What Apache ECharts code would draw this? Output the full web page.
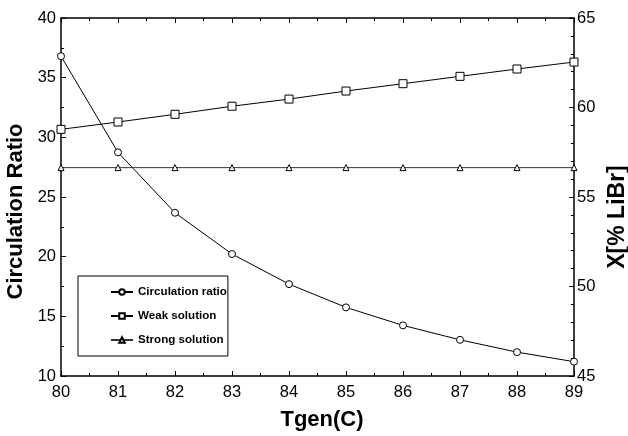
<!DOCTYPE html>
<html>
<head>
<meta charset="utf-8">
<script src="https://cdn.jsdelivr.net/npm/echarts@6/dist/echarts.min.js"></script>
<style>html,body{margin:0;padding:0;background:#fff}#c{width:628px;height:436px}</style>
</head>
<body>
<div id="c"></div>
<script>
const tgen = [80, 81, 82, 83, 84, 85, 86, 87, 88, 89];
const circulationRatio = [36.8, 28.74, 23.68, 20.22, 17.7, 15.75, 14.24, 13.03, 12.0, 11.2];
const weakSolution = [58.78, 59.19, 59.62, 60.07, 60.47, 60.92, 61.33, 61.74, 62.15, 62.54];
const strongSolution = [56.64, 56.64, 56.64, 56.64, 56.64, 56.64, 56.64, 56.64, 56.64, 56.64];
const seriesNames = ['Circulation ratio', 'Weak solution', 'Strong solution'];

const font = 'Liberation Sans, Arial, sans-serif';
const axisLine = {show: true, onZero: false, lineStyle: {color: '#000', width: 1.5}};
const pairs = (ys) => tgen.map((x, i) => [x, ys[i]]);
const nameStyle = (size, padding) => ({fontFamily: font, fontWeight: 'bold', fontSize: size, color: '#000', padding: padding});
const labelStyle = {fontFamily: font, fontSize: 16.5, color: '#000'};

const chart = echarts.init(document.getElementById('c'));
chart.setOption({
  animation: false,
  backgroundColor: '#fff',
  grid: {left: 61, right: 54, top: 18, bottom: 60, outerBoundsMode: 'none', containLabel: false},
  legend: {
    orient: 'vertical',
    left: 78, top: 276,
    data: seriesNames,
    itemWidth: 22, itemHeight: 7,
    itemGap: 10,
    padding: [9, 1, 9, 32],
    borderColor: '#000', borderWidth: 1,
    textStyle: {fontFamily: font, fontWeight: 'bold', fontSize: 11.6, color: '#000', lineHeight: 14}
  },
  xAxis: [{
    type: 'value', min: 80, max: 89, interval: 1,
    name: 'Tgen(C)', nameLocation: 'middle', nameGap: 33,
    nameTextStyle: nameStyle(22, [0, 0, 0, 9]),
    axisLine: axisLine,
    axisTick: {inside: true, length: 5, lineStyle: {color: '#000'}},
    minorTick: {show: true, splitNumber: 2, length: 3, lineStyle: {color: '#000'}},
    axisLabel: Object.assign({margin: 8}, labelStyle),
    splitLine: {show: false}
  }, {
    type: 'value', min: 80, max: 89, interval: 1, position: 'top',
    axisLine: axisLine,
    axisTick: {inside: true, length: 5, lineStyle: {color: '#000'}},
    minorTick: {show: true, splitNumber: 2, length: 3, lineStyle: {color: '#000'}},
    axisLabel: {show: false},
    splitLine: {show: false}
  }],
  yAxis: [{
    type: 'value', min: 10, max: 40, interval: 5, position: 'left',
    name: 'Circulation Ratio', nameLocation: 'middle', nameGap: 34, nameRotate: 90,
    nameTextStyle: nameStyle(22, [0, 29, 0, 0]),
    axisLine: axisLine,
    axisTick: {inside: true, length: 5, lineStyle: {color: '#000'}},
    minorTick: {show: true, splitNumber: 2, length: 3, lineStyle: {color: '#000'}},
    axisLabel: Object.assign({margin: 5}, labelStyle),
    splitLine: {show: false}
  }, {
    type: 'value', min: 45, max: 65, interval: 5, position: 'right',
    name: 'X[% LiBr]', nameLocation: 'middle', nameGap: 31, nameRotate: 90,
    nameTextStyle: nameStyle(23, [0, 40, 0, 0]),
    axisLine: axisLine,
    axisTick: {inside: true, length: 5, lineStyle: {color: '#000'}},
    minorTick: {show: true, splitNumber: 5, length: 3, lineStyle: {color: '#000'}},
    axisLabel: Object.assign({margin: 3}, labelStyle),
    splitLine: {show: false}
  }],
  series: [{
    name: seriesNames[0], type: 'line', xAxisIndex: 0, yAxisIndex: 0,
    data: pairs(circulationRatio),
    symbol: 'circle', symbolSize: 7,
    lineStyle: {color: '#000', width: 1}, itemStyle: {color: '#fff', borderColor: '#000', borderWidth: 1}
  }, {
    name: seriesNames[1], type: 'line', xAxisIndex: 0, yAxisIndex: 1,
    data: pairs(weakSolution),
    symbol: 'rect', symbolSize: 8,
    lineStyle: {color: '#000', width: 1}, itemStyle: {color: '#fff', borderColor: '#000', borderWidth: 1}
  }, {
    name: seriesNames[2], type: 'line', xAxisIndex: 0, yAxisIndex: 1,
    data: pairs(strongSolution),
    symbol: 'triangle', symbolSize: 6,
    lineStyle: {color: '#333', width: 1}, itemStyle: {color: '#fff', borderColor: '#000', borderWidth: 1}
  }]
});
</script>
</body>
</html>
